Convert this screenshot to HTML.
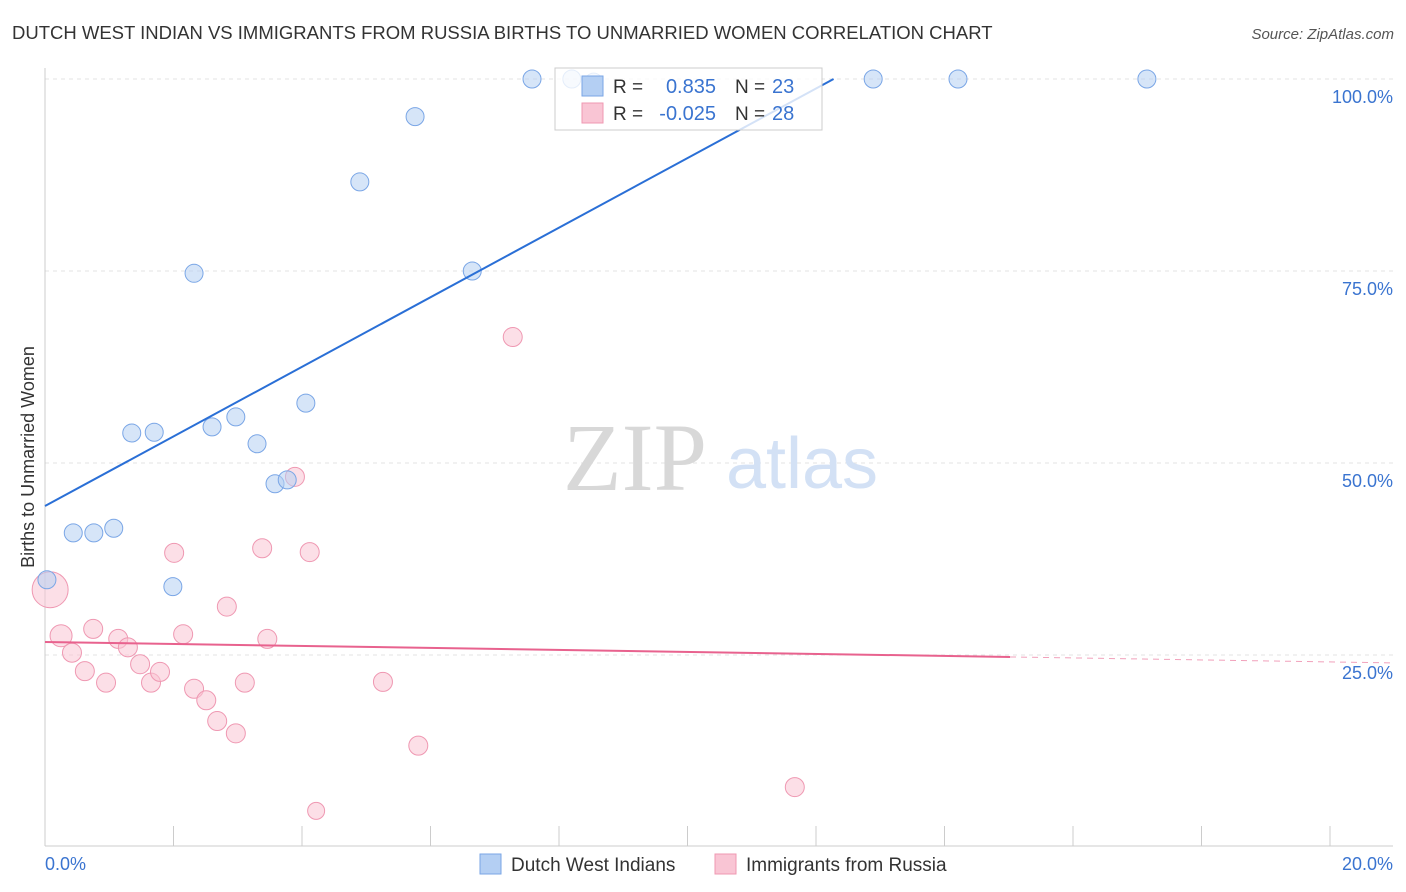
<!DOCTYPE html>
<html><head><meta charset="utf-8"><style>
body{margin:0;background:#fff;font-family:"Liberation Sans",sans-serif}
svg{display:block}
</style></head><body>
<svg width="1406" height="892" viewBox="0 0 1406 892" xmlns="http://www.w3.org/2000/svg">
<text x="12" y="39" font-size="18.5" fill="#333">DUTCH WEST INDIAN VS IMMIGRANTS FROM RUSSIA BIRTHS TO UNMARRIED WOMEN CORRELATION CHART</text>
<text x="1394" y="39" font-size="15" fill="#555" font-style="italic" text-anchor="end">Source: ZipAtlas.com</text>
<g id="grid"></g>
<g>
<text x="635" y="490" font-size="96" font-family="Liberation Serif,serif" fill="#d8d8d8" text-anchor="middle">ZIP</text>
<text x="802" y="488" font-size="72" fill="#d3e1f5" text-anchor="middle">atlas</text>
</g>
<line x1="45" y1="68" x2="45" y2="846" stroke="#ccc"/>
<line x1="45" y1="846" x2="1393" y2="846" stroke="#ccc"/>
<g id="xticks"></g>
<g id="ylabels"></g>
<text x="45" y="870" font-size="18" fill="#3a74d0">0.0%</text>
<text x="1393" y="870" font-size="18" fill="#3a74d0" text-anchor="end">20.0%</text>
<text transform="translate(34,457) rotate(-90)" font-size="18" fill="#333" text-anchor="middle">Births to Unmarried Women</text>
<g id="pink"></g>
<g id="blue"></g>
<g id="trends"></g>
<g>
<rect x="555" y="68" width="267" height="62" fill="#fff" fill-opacity="0.8" stroke="#ccc"/>
<rect x="582" y="76" width="21" height="20" fill="#b4cff3" stroke="#7aa6e6"/>
<rect x="582" y="103" width="21" height="20" fill="#f9c5d4" stroke="#ef98b2"/>
<text x="613" y="93" font-size="19" fill="#333">R =</text>
<text x="716" y="93" font-size="20" fill="#3a74d0" text-anchor="end">0.835</text>
<text x="735" y="93" font-size="19" fill="#333">N =</text>
<text x="772" y="93" font-size="20" fill="#3a74d0">23</text>
<text x="613" y="120" font-size="19" fill="#333">R =</text>
<text x="716" y="120" font-size="20" fill="#3a74d0" text-anchor="end">-0.025</text>
<text x="735" y="120" font-size="19" fill="#333">N =</text>
<text x="772" y="120" font-size="20" fill="#3a74d0">28</text>
</g>
<g>
<rect x="480" y="854" width="21" height="20" fill="#b4cff3" stroke="#7aa6e6"/>
<text x="511" y="871" font-size="19" fill="#333">Dutch West Indians</text>
<rect x="715" y="854" width="21" height="20" fill="#f9c5d4" stroke="#ef98b2"/>
<text x="746" y="871" font-size="19" fill="#333">Immigrants from Russia</text>
</g>
</svg>
<script>
const blueX=[0.03,0.44,0.76,1.07,1.35,1.70,1.99,2.32,2.60,2.97,3.30,3.58,3.77,4.06,4.90,5.76,6.65,7.58,8.20,8.54,12.89,14.21,17.15];
const blueY=[34.8,40.9,40.9,41.5,53.9,54.0,33.9,74.7,54.7,56.0,52.5,47.3,47.8,57.8,86.6,95.1,75.0,100,100,99.6,100,100,100];
const pinkX=[0.08,0.25,0.42,0.62,0.75,0.95,1.14,1.29,1.48,1.65,1.79,2.01,2.15,2.32,2.51,2.68,2.83,2.97,3.11,3.38,3.46,3.89,4.12,4.22,5.26,5.81,7.28,11.67];
const pinkY=[33.5,27.5,25.3,22.9,28.4,21.4,27.1,26.0,23.8,21.4,22.8,38.3,27.7,20.6,19.1,16.4,31.3,14.8,21.4,38.9,27.1,48.2,38.4,4.7,21.5,13.2,66.4,7.8];
const pinkR=[18,11,9.5,9.5,9.5,9.5,9.5,9.5,9.5,9.5,9.5,9.5,9.5,9.5,9.5,9.5,9.5,9.5,9.5,9.5,9.5,9.5,9.5,8.5,9.5,9.5,9.5,9.5];
const blueTrend=[44.4,4.53];
const pinkTrend=[26.7,-0.13];
const yTicks=[25,50,75,100];
const yTickLabels=["25.0%","50.0%","75.0%","100.0%"];
const xTicks=[0,2,4,6,8,10,12,14,16,18,20];
const NS="http://www.w3.org/2000/svg";
const sx=v=>45+v*64.25, sy=v=>847-v*7.68;
function mk(p,t,a){const e=document.createElementNS(NS,t);for(const k in a)e.setAttribute(k,a[k]);document.getElementById(p).appendChild(e);return e;}
yTicks.forEach((t,i)=>{
 const g=mk('grid','line',{x1:45,x2:1393,y1:sy(t),y2:sy(t),stroke:'#e3e3e3','stroke-dasharray':'4,4'});
 
 
 const l=mk('ylabels','text',{x:1393,y:sy(t)+24,'font-size':18,fill:'#3a74d0','text-anchor':'end'});
 l.textContent=yTickLabels[i];
 
 
});
xTicks.forEach(t=>{
 const e=mk('xticks','line',{x1:sx(t),x2:sx(t),y1:826,y2:846,stroke:'#ccc'});
 
 
});
pinkX.forEach((x,i)=>{
 const c=mk('pink','circle',{cx:sx(x),cy:sy(pinkY[i]),r:pinkR[i],fill:'#f9c5d4','fill-opacity':0.55,stroke:'#ef98b2'});
 
 
});
blueX.forEach((x,i)=>{
 const c=mk('blue','circle',{cx:sx(x),cy:sy(blueY[i]),r:9,fill:'#b4cff3','fill-opacity':0.55,stroke:'#7aa6e6'});
 
 
});
const bEnd=(100-blueTrend[0])/blueTrend[1];
const bl=mk('trends','line',{x1:sx(0),y1:sy(blueTrend[0]),x2:sx(bEnd),y2:sy(100),stroke:'#2a6fd6','stroke-width':2});


const pf=x=>pinkTrend[0]+pinkTrend[1]*x;
const pl=mk('trends','line',{x1:sx(0),y1:sy(pf(0)),x2:sx(15.02),y2:sy(pf(15.02)),stroke:'#e8628e','stroke-width':2});


const pd=mk('trends','line',{x1:sx(15.02),y1:sy(pf(15.02)),x2:sx(20.98),y2:sy(pf(20.98)),stroke:'#e8628e','stroke-width':1,'stroke-dasharray':'6,5','stroke-opacity':0.6});


</script>
</body></html>
